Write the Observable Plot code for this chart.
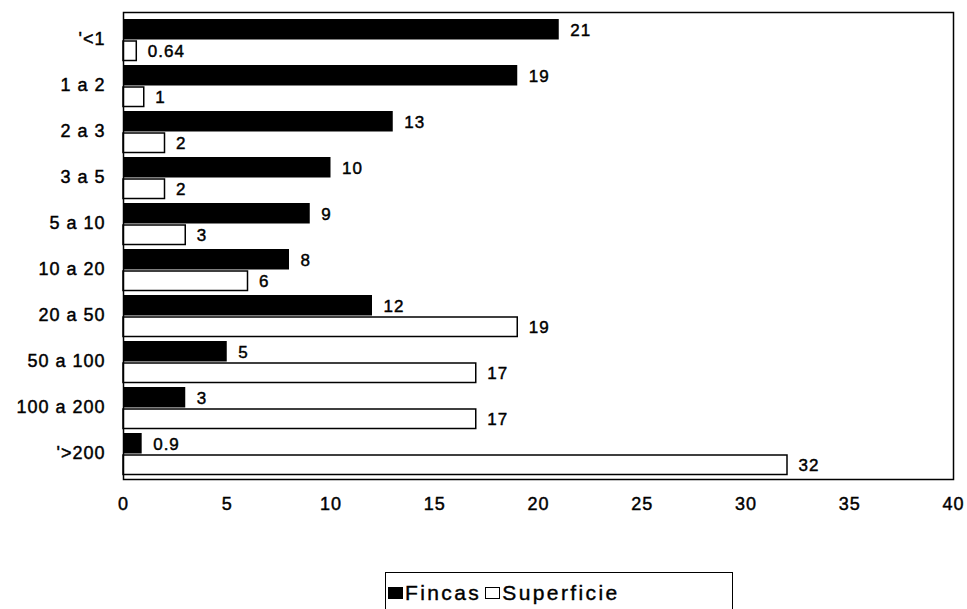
<!DOCTYPE html>
<html>
<head>
<meta charset="utf-8">
<script src="https://cdn.jsdelivr.net/npm/d3@7"></script>
<script src="https://cdn.jsdelivr.net/npm/@observablehq/plot@0.6"></script>
<style>
  html, body { margin: 0; padding: 0; background: #fff; }
  #wrap { position: relative; width: 967px; height: 609px; overflow: hidden; font-family: "Liberation Sans", Arial, sans-serif; }
  #chart svg text { stroke: #000; stroke-width: 0.45px; }
  #legend {
    position: absolute; left: 385px; top: 572px; width: 348px; height: 44px;
    border: 1.5px solid #000; box-sizing: border-box;
    display: flex; align-items: flex-start; padding-top: 8px; padding-left: 2px;
    font-size: 21px; letter-spacing: 2.4px; color: #000;
    -webkit-text-stroke: 0.4px #000;
  }
  #legend .sw { display: inline-block; width: 15px; height: 12px; border: 1.5px solid #000; box-sizing: border-box; margin-right: 2px; }
  #legend .item { display: inline-flex; align-items: center; margin-right: 4px; }
</style>
</head>
<body>
<div id="wrap">
  <div id="chart"></div>
  <div id="legend">
    <span class="item"><span class="sw" style="background:#000"></span>Fincas</span>
    <span class="item"><span class="sw" style="background:#fff"></span>Superficie</span>
  </div>
</div>
<script>
// Size classes (ha) and the share (%) of holdings and of area in each
const categories = ["'<1", "1 a 2", "2 a 3", "3 a 5", "5 a 10", "10 a 20", "20 a 50", "50 a 100", "100 a 200", "'>200"];
const fincas = [21, 19, 13, 10, 9, 8, 12, 5, 3, 0.9];
const superficie = [0.64, 1, 2, 2, 3, 6, 19, 17, 17, 32];
const xTicks = [0, 5, 10, 15, 20, 25, 30, 35, 40];

const rowsF = categories.map((c, i) => ({cat: c, value: fincas[i]}));
const rowsS = categories.map((c, i) => ({cat: c, value: superficie[i]}));

const chart = Plot.plot({
  width: 967,
  height: 519,
  marginTop: 12,
  marginBottom: 40,
  marginLeft: 123,
  marginRight: 14,
  style: {fontFamily: "Liberation Sans, Arial, sans-serif", fontSize: "18px", color: "#000", background: "#fff", letterSpacing: "1px"},
  x: {domain: [0, 40], ticks: xTicks, tickSize: 0, tickPadding: 18, label: null},
  y: {domain: categories, padding: 0, tickSize: 0, tickPadding: 18, label: null},
  marks: [
    Plot.barX(rowsF, {y: "cat", x: "value", fill: "#000", insetTop: 3, insetBottom: 22.5}),
    Plot.barX(rowsS, {y: "cat", x: "value", fill: "#fff", stroke: "#000", strokeWidth: 1.5, insetTop: 25, insetBottom: 1.5}),
    Plot.text(rowsF, {y: "cat", x: "value", text: d => String(d.value), textAnchor: "start", dx: 11, dy: -8.5, fontSize: 17, fill: "#000"}),
    Plot.text(rowsS, {y: "cat", x: "value", text: d => String(d.value), textAnchor: "start", dx: 11, dy: 12, fontSize: 17, fill: "#000"}),
    Plot.frame({stroke: "#000", strokeWidth: 1.5})
  ]
});
document.getElementById("chart").appendChild(chart);
</script>
</body>
</html>
